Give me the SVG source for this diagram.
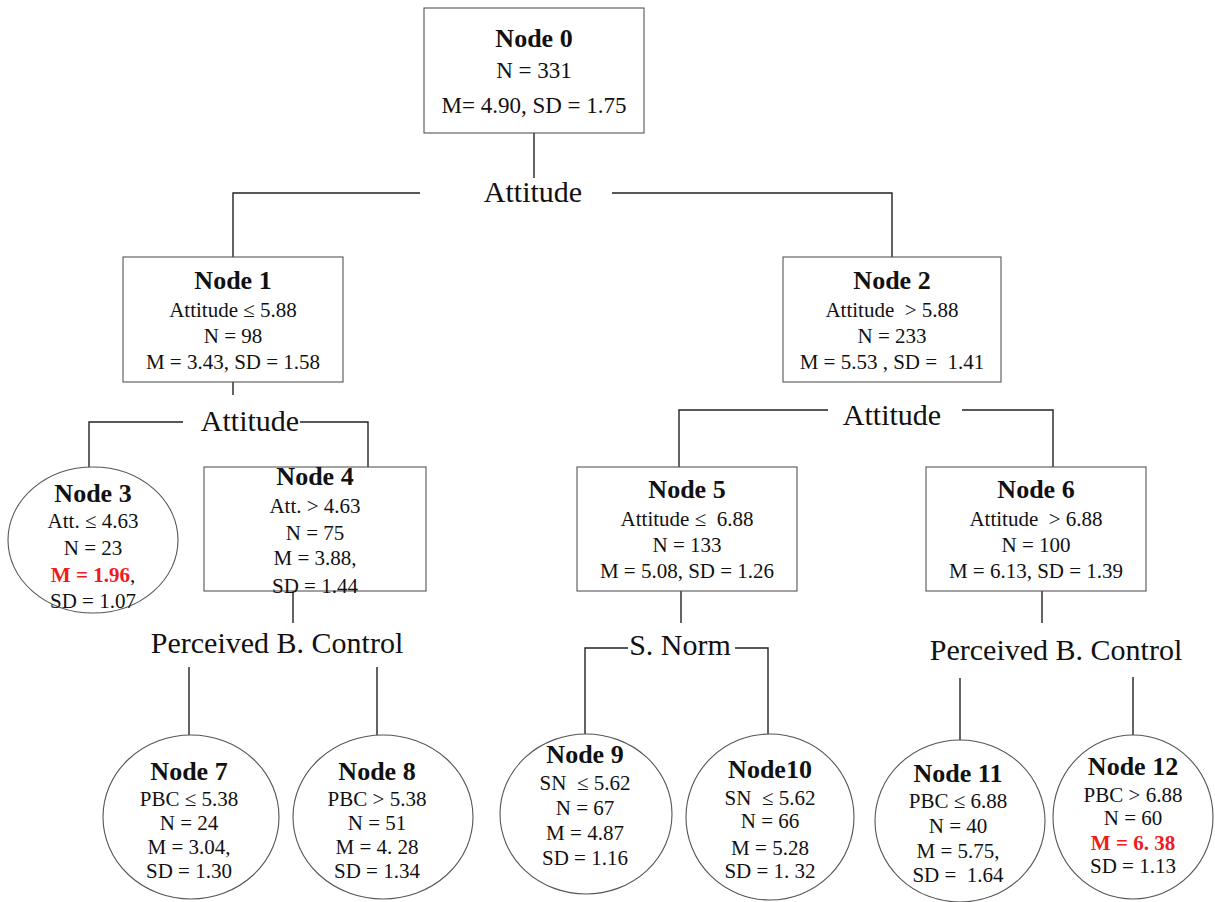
<svg xmlns="http://www.w3.org/2000/svg" width="1215" height="902" viewBox="0 0 1215 902">
<style>
  text { font-family: "Liberation Serif", "Times New Roman", serif; font-size: 21px; text-anchor: middle; fill: #111; }
  .h { font-weight: bold; font-size: 26px; }
  .big { font-size: 23px; }
  .lab { font-size: 30px; }
  .red { fill: #ee1c1c; font-weight: bold; }
  .box { fill: #fff; stroke: #555; stroke-width: 1.1; }
  .conn { fill: none; stroke: #222; stroke-width: 1.4; }
</style>
<rect width="1215" height="902" fill="#fff"/>
<g id="connectors" class="conn">
  <path d="M534,133 V178"/>
  <path d="M233,257 V193 H420"/>
  <path d="M612,193 H892 V257"/>
  <path d="M233,382 V395"/>
  <path d="M89,467 V422 H183"/>
  <path d="M300,422 H368 V467"/>
  <path d="M679,467 V410 H828"/>
  <path d="M962,410 H1053 V467"/>
  <path d="M293,591 V623"/>
  <path d="M189,667 V735"/>
  <path d="M377,667 V735"/>
  <path d="M681,591 V623"/>
  <path d="M585,734 V648 H628"/>
  <path d="M735,648 H768 V734"/>
  <path d="M1042,591 V623"/>
  <path d="M960,678 V740"/>
  <path d="M1133,677 V735"/>
</g>
<g id="labels">
  <text class="lab" x="533" y="202">Attitude</text>
  <text class="lab" x="250" y="431">Attitude</text>
  <text class="lab" x="892" y="425">Attitude</text>
  <text class="lab" x="277" y="653">Perceived B. Control</text>
  <text class="lab" x="680" y="655">S. Norm</text>
  <text class="lab" x="1056" y="660">Perceived B. Control</text>
</g>
<g id="node0">
  <rect class="box" x="424" y="8" width="220" height="125"/>
  <text class="h" x="534" y="47">Node 0</text>
  <text class="big" x="534" y="78">N = 331</text>
  <text class="big" x="534" y="113">M= 4.90, SD = 1.75</text>
</g>
<g id="node1">
  <rect class="box" x="123" y="257" width="220" height="125"/>
  <text class="h" x="233" y="289">Node 1</text>
  <text x="233" y="317">Attitude ≤ 5.88</text>
  <text x="233" y="343">N = 98</text>
  <text x="233" y="369">M = 3.43, SD = 1.58</text>
</g>
<g id="node2">
  <rect class="box" x="783" y="257" width="218" height="125"/>
  <text class="h" x="892" y="289">Node 2</text>
  <text x="892" y="317" xml:space="preserve">Attitude  &gt; 5.88</text>
  <text x="892" y="343">N = 233</text>
  <text x="892" y="369" xml:space="preserve">M = 5.53 , SD =  1.41</text>
</g>
<g id="node3">
  <ellipse class="box" cx="93" cy="540" rx="85" ry="73"/>
  <text class="h" x="93" y="502">Node 3</text>
  <text x="93" y="528">Att. ≤ 4.63</text>
  <text x="93" y="555">N = 23</text>
  <text x="93" y="582"><tspan class="red">M = 1.96</tspan>,</text>
  <text x="93" y="608">SD = 1.07</text>
</g>
<g id="node4">
  <rect class="box" x="204" y="467" width="222" height="124"/>
  <text class="h" x="315" y="485">Node 4</text>
  <text x="315" y="513">Att. &gt; 4.63</text>
  <text x="315" y="540">N = 75</text>
  <text x="315" y="565">M = 3.88,</text>
  <text x="315" y="593">SD = 1.44</text>
</g>
<g id="node5">
  <rect class="box" x="577" y="467" width="220" height="124"/>
  <text class="h" x="687" y="498">Node 5</text>
  <text x="687" y="526" xml:space="preserve">Attitude ≤  6.88</text>
  <text x="687" y="552">N = 133</text>
  <text x="687" y="578">M = 5.08, SD = 1.26</text>
</g>
<g id="node6">
  <rect class="box" x="926" y="467" width="220" height="124"/>
  <text class="h" x="1036" y="498">Node 6</text>
  <text x="1036" y="526" xml:space="preserve">Attitude  &gt; 6.88</text>
  <text x="1036" y="552">N = 100</text>
  <text x="1036" y="578">M = 6.13, SD = 1.39</text>
</g>
<g id="node7">
  <ellipse class="box" cx="191" cy="817" rx="88" ry="82"/>
  <text class="h" x="189" y="780">Node 7</text>
  <text x="189" y="806">PBC ≤ 5.38</text>
  <text x="189" y="830">N = 24</text>
  <text x="189" y="854">M = 3.04,</text>
  <text x="189" y="878">SD = 1.30</text>
</g>
<g id="node8">
  <ellipse class="box" cx="383" cy="817" rx="90" ry="82"/>
  <text class="h" x="377" y="780">Node 8</text>
  <text x="377" y="806">PBC &gt; 5.38</text>
  <text x="377" y="830">N = 51</text>
  <text x="377" y="854">M = 4. 28</text>
  <text x="377" y="878">SD = 1.34</text>
</g>
<g id="node9">
  <ellipse class="box" cx="586" cy="814" rx="86" ry="80"/>
  <text class="h" x="585" y="763">Node 9</text>
  <text x="585" y="790" xml:space="preserve">SN  ≤ 5.62</text>
  <text x="585" y="815">N = 67</text>
  <text x="585" y="840">M = 4.87</text>
  <text x="585" y="865">SD = 1.16</text>
</g>
<g id="node10">
  <ellipse class="box" cx="770" cy="817" rx="84" ry="83"/>
  <text class="h" x="770" y="778">Node10</text>
  <text x="770" y="805" xml:space="preserve">SN  ≤ 5.62</text>
  <text x="770" y="828">N = 66</text>
  <text x="770" y="855">M = 5.28</text>
  <text x="770" y="878">SD = 1. 32</text>
</g>
<g id="node11">
  <ellipse class="box" cx="960" cy="821" rx="85" ry="81"/>
  <text class="h" x="958" y="782">Node 11</text>
  <text x="958" y="808">PBC ≤ 6.88</text>
  <text x="958" y="833">N = 40</text>
  <text x="958" y="858">M = 5.75,</text>
  <text x="958" y="882" xml:space="preserve">SD =  1.64</text>
</g>
<g id="node12">
  <ellipse class="box" cx="1133" cy="817" rx="80" ry="82"/>
  <text class="h" x="1133" y="775">Node 12</text>
  <text x="1133" y="802">PBC &gt; 6.88</text>
  <text x="1133" y="825">N = 60</text>
  <text class="red" x="1133" y="850">M = 6. 38</text>
  <text x="1133" y="873">SD = 1.13</text>
</g>
</svg>
